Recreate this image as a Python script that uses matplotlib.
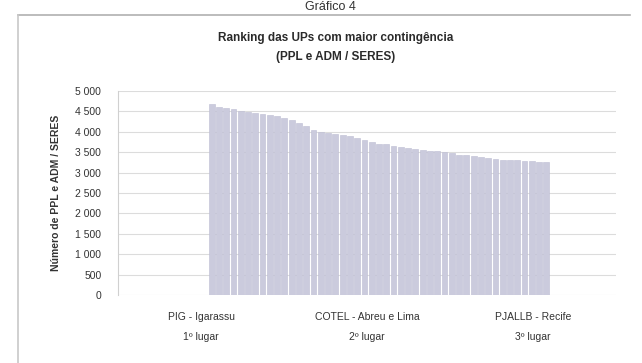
import numpy as np
import matplotlib
matplotlib.use("Agg")
import matplotlib.pyplot as plt
from matplotlib.lines import Line2D
from matplotlib.ticker import FuncFormatter

# unidades prisionais em destaque (eixo de categorias)
unidades = ["PIG - Igarassu", "COTEL - Abreu e Lima", "PJALLB - Recife"]
posicoes = ["1º lugar", "2º lugar", "3º lugar"]

# contingente (PPL e ADM / SERES), em ordem decrescente
contingente = [4680, 4620, 4590, 4560, 4520, 4490, 4460, 4430, 4400, 4380,
               4350, 4300, 4220, 4130, 4050, 4000, 3970, 3940, 3910, 3890,
               3860, 3800, 3740, 3710, 3690, 3660, 3630, 3610, 3580, 3560,
               3540, 3520, 3500, 3470, 3440, 3420, 3400, 3380, 3360, 3340,
               3320, 3310, 3300, 3290, 3280, 3260, 3250]

W, H = 642, 363
fig = plt.figure(figsize=(W / 100, H / 100), dpi=100)
plt.rcParams['font.family'] = ['Liberation Sans', 'DejaVu Sans']

# moldura do gráfico
fig.add_artist(Line2D([18 / W, 630 / W], [1 - 15 / H, 1 - 15 / H],
                      color="#b0b0b0", lw=1.2))
fig.add_artist(Line2D([18 / W, 18 / W], [1 - 15 / H, 0],
                      color="#c8c8c8", lw=1.2))
fig.text(330 / W, 1 - 1 / H, "Gráfico 4", ha="center", va="top",
         fontsize=9, color="#333333")

fig.text(336 / W, 1 - 38 / H, "Ranking das UPs com maior contingência",
         ha="center", va="center", fontsize=8.5, fontweight="bold", color="#2a2a2a")
fig.text(336 / W, 1 - 57 / H, "(PPL e ADM / SERES)",
         ha="center", va="center", fontsize=8.5, fontweight="bold", color="#2a2a2a")

left, right, top, bottom = 118, 616, 91, 295
ax = fig.add_axes([left / W, 1 - bottom / H, (right - left) / W, (bottom - top) / H])
ax.set_xlim(-0.5, 2.5)
ax.set_ylim(0, 5000)
ax.set_yticks(np.arange(0, 5001, 500))
ax.yaxis.set_major_formatter(FuncFormatter(lambda v, p: f"{int(v):,}".replace(",", " ")))
ax.set_xticks(range(len(unidades)))
ax.set_xticklabels([f"{u}\n\n{p}" for u, p in zip(unidades, posicoes)],
                   fontsize=7.5, color="#333333", linespacing=1.0)
ax.tick_params(axis="both", length=0)
ax.tick_params(axis="y", labelsize=7.5, labelcolor="#333333", pad=12)
ax.tick_params(axis="x", pad=12)
ax.grid(axis="y", color="#dcdcdc", lw=0.8)
ax.set_axisbelow(True)
for s in ["top", "right", "bottom"]:
    ax.spines[s].set_visible(False)
ax.spines["left"].set_color("#d0d0d0")
ax.set_ylabel("Número de PPL e ADM / SERES", fontsize=7.5, fontweight="bold",
              color="#333333", labelpad=10)

# barras finas sobre um eixo auxiliar
ax2 = ax.twiny()
n = len(contingente)
px = (550 - 208) / n
ax2.set_xlim(-0.5 - (208 - left) / px, n - 0.5 + (right - 550) / px)
ax2.bar(np.arange(n), contingente, width=0.8, color="#cbcbdd",
        edgecolor="#bdbdd3", lw=0.4)
ax2.set_ylim(0, 5000)
ax2.axis("off")

fig.savefig("out.png", dpi=100)
